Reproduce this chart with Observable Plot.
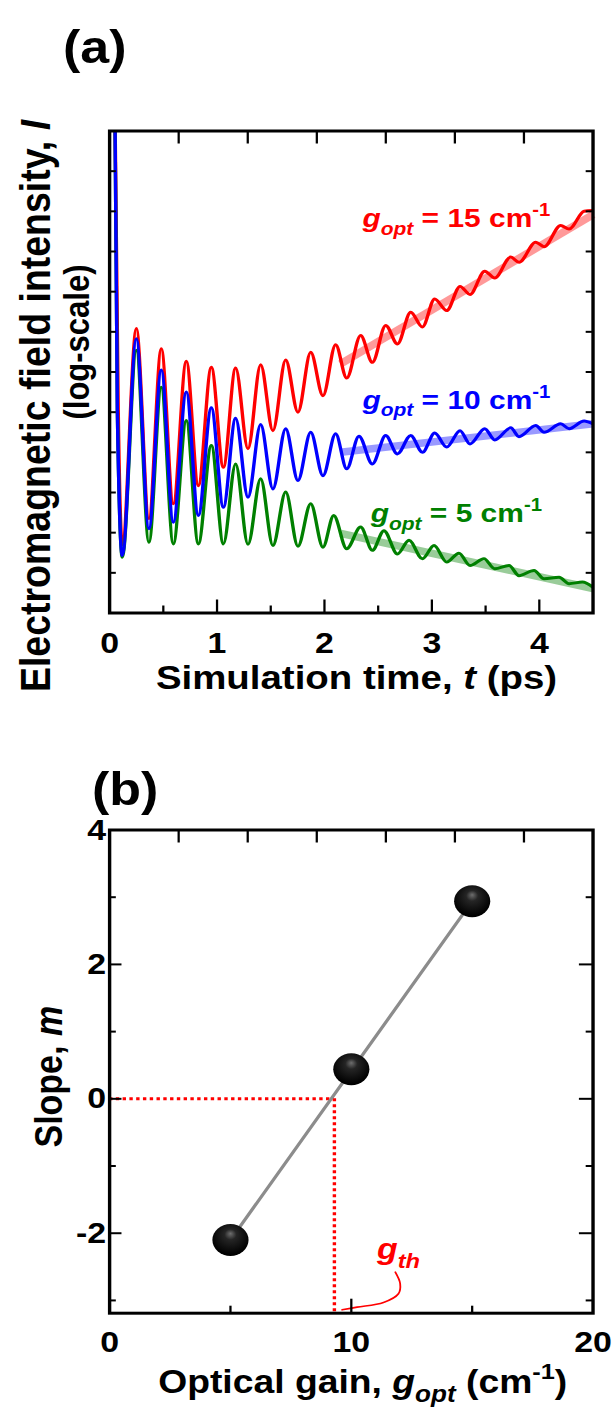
<!DOCTYPE html>
<html><head><meta charset="utf-8">
<script src="https://cdn.jsdelivr.net/npm/d3@7"></script>
<script src="https://cdn.jsdelivr.net/npm/@observablehq/plot@0.6"></script>
<style>
html,body{margin:0;padding:0;background:#fff;}
#fig{position:relative;width:542.5px;height:1413px;transform:scaleX(1.13);transform-origin:0 0;}
#fig svg{position:absolute;left:0;overflow:visible;}
</style></head><body><div id="fig"></div>
<script>
// ---------- DATA: panel (a) — log10 intensity (decades) vs simulation time (ps)
const redTime   = [0.048,0.08,0.118,0.249,0.366,0.481,0.593,0.714,0.826,0.947,1.059,1.173,1.288,1.406,1.520,1.639,1.753,1.872,1.986,2.104,2.207,2.337,2.446,2.570,2.679,2.803,2.912,3.026,3.138,3.262,3.355,3.492,3.585,3.734,3.811,3.967,4.044,4.199,4.277,4.417,4.5];
const redLogI   = [13.0,5.1,1.7,7.08,2.35,6.58,2.72,6.27,3.17,6.12,3.63,6.10,4.09,6.18,4.54,6.30,5.00,6.49,5.41,6.68,5.85,6.91,6.24,7.16,6.70,7.49,7.12,7.82,7.53,8.13,7.93,8.51,8.34,8.86,8.73,9.23,9.12,9.65,9.56,10.00,10.02];
const blueTime  = [0.048,0.072,0.118,0.249,0.366,0.481,0.593,0.714,0.826,0.947,1.059,1.173,1.288,1.406,1.520,1.639,1.753,1.872,1.986,2.104,2.207,2.321,2.446,2.570,2.679,2.803,2.912,3.026,3.138,3.262,3.355,3.492,3.585,3.734,3.811,3.967,4.044,4.199,4.277,4.417,4.5];
const blueLogI  = [13.0,5.04,1.43,6.83,2.10,6.05,2.26,5.50,2.43,5.11,2.63,4.85,2.88,4.69,3.09,4.59,3.30,4.50,3.42,4.46,3.59,4.40,3.71,4.42,3.96,4.42,4.00,4.48,4.13,4.54,4.21,4.59,4.31,4.61,4.39,4.67,4.50,4.71,4.59,4.78,4.71];
const greenTime = [0.048,0.072,0.118,0.249,0.366,0.481,0.593,0.714,0.826,0.947,1.059,1.173,1.288,1.406,1.520,1.639,1.753,1.872,1.986,2.086,2.207,2.337,2.446,2.554,2.679,2.787,2.912,3.020,3.138,3.252,3.355,3.485,3.585,3.718,3.811,3.951,4.044,4.184,4.277,4.401,4.5];
const greenLogI = [13.0,5.04,1.39,6.54,1.76,5.62,1.72,4.79,1.72,4.17,1.72,3.71,1.71,3.34,1.68,3.01,1.66,2.72,1.64,2.43,1.60,2.14,1.56,2.05,1.47,1.81,1.35,1.68,1.27,1.49,1.18,1.35,1.10,1.18,0.93,1.06,0.85,0.89,0.73,0.77,0.64];
// linear fits (start, end) on the growth/decay region
const fitTime   = [2.15, 4.5];
const redFit    = [6.2, 9.92];
const blueFit   = [4.0, 4.71];
const greenFit  = [1.98, 0.61];
// series labels
const seriesGain   = [15, 10, 5];
const seriesColor  = ["#ff0000", "#0000ff", "#008000"];
const labelTime    = [2.353, 2.353, 2.43];
const labelLogI    = [9.60, 5.08, 2.26];
// axes of (a)
const xDomainA = [0, 4.5];
const yDomainA = [0, 12];
const xMajorA = [0, 1, 2, 3, 4];
const xMajorLabelsA = ["0", "1", "2", "3", "4"];
const xMinorA = [0.5, 1.5, 2.5, 3.5];
const xTopA = [0.643, 1.286, 1.929, 2.571, 3.214, 3.857];
const yTicksA = [1, 2, 3, 4, 5, 6, 7, 8, 9, 10, 11];

// ---------- DATA: panel (b) — slope m vs optical gain
const gainValues  = [5, 10, 15];
const slopeValues = [-2.1, 0.44, 2.94];
const fitGain  = [5, 15];
const fitSlope = [-2.1, 2.94];
const gThreshold = 9.3;
const leaderGain  = [11.82, 12.02, 11.95, 11.33, 10.24, 9.62];
const leaderSlope = [-2.58, -2.75, -2.90, -3.03, -3.10, -3.14];
const gthLabelGain = 11.06, gthLabelSlope = -2.39;
const xDomainB = [0, 20];
const yDomainB = [-3.19, 4];
const xMajorB = [0, 10, 20];
const xMajorLabelsB = ["0", "10", "20"];
const xMinorB = [5, 15];
const xTopB = [2.857, 5.714, 8.571, 11.429, 14.286, 17.143];
const yMajorB = [4, 2, 0, -2];
const yMajorLabelsB = ["4", "2", "0", "-2"];
const yMinorB = [3, 1, -1, -3];

// ---------- helpers
const FONT = "'Liberation Sans', Arial, Helvetica, sans-serif";
const W = 542.5, ML = 96.5, MR = 18.2;
const PW = W - ML - MR;

function richText(t, parts, size) {
  t.text(null);
  let shift = 0;
  for (const p of parts) {
    const ts = t.append("tspan").text(p.s);
    let target = 0, fs = size;
    if (p.sub) { target = 0.28 * size; fs = 0.7 * size; }
    if (p.sup) { target = -0.42 * size; fs = 0.68 * size; }
    if (target - shift !== 0) ts.attr("dy", target - shift);
    shift = target;
    if (fs !== size) ts.attr("font-size", fs);
    if (p.it) ts.attr("font-style", "italic");
  }
}
function addText(svg, {x, y, rotate = 0, size, anchor = "middle", fill = "#000", parts}) {
  const t = d3.select(svg).append("text")
    .attr("transform", `translate(${x},${y}) rotate(${rotate})`)
    .attr("text-anchor", anchor).attr("font-size", size).attr("font-weight", "bold")
    .attr("fill", fill).attr("font-family", FONT);
  richText(t, parts, size);
}
function replaceRich(svg, plain, parts, size) {
  d3.select(svg).selectAll("text").each(function () {
    if (this.textContent === plain) richText(d3.select(this), parts, size);
  });
}
const gLabelParts = g => [{s: "g", it: 1}, {s: "opt", it: 1, sub: 1}, {s: ` = ${g} cm`}, {s: "-1", sup: 1}];
const rows = (xs, ys, kx, ky) => xs.map((v, i) => ({[kx]: v, [ky]: ys[i]}));

// ---------- PANEL (a)
const HA = 720, MTA = 130.5, MBA = 107.5, PHA = HA - MTA - MBA;
const LABEL_SIZE = 26.5;
const redRows = rows(redTime, redLogI, "t", "u");
const blueRows = rows(blueTime, blueLogI, "t", "u");
const greenRows = rows(greenTime, greenLogI, "t", "u");
const labels = seriesGain.map((g, i) => ({g, color: seriesColor[i], t: labelTime[i], u: labelLogI[i], plain: `gopt = ${g} cm-1`}));

const svgA = Plot.plot({
  width: W, height: HA,
  marginTop: MTA, marginBottom: MBA, marginLeft: ML, marginRight: MR,
  x: {domain: xDomainA, axis: null},
  y: {domain: yDomainA, axis: null},
  color: {type: "identity"},
  style: {fontFamily: FONT, background: "transparent", overflow: "visible"},
  marks: [
    Plot.line(rows(fitTime, redFit, "t", "u"), {x: "t", y: "u", stroke: "#ff0000", strokeOpacity: 0.4, strokeWidth: 7.5, strokeLinecap: "butt"}),
    Plot.line(rows(fitTime, blueFit, "t", "u"), {x: "t", y: "u", stroke: "#0000ff", strokeOpacity: 0.4, strokeWidth: 7.5, strokeLinecap: "butt"}),
    Plot.line(rows(fitTime, greenFit, "t", "u"), {x: "t", y: "u", stroke: "#008000", strokeOpacity: 0.4, strokeWidth: 7.5, strokeLinecap: "butt"}),
    Plot.line(redRows, {x: "t", y: "u", stroke: "#ff0000", strokeWidth: 3, curve: "monotone-x", clip: true}),
    Plot.line(greenRows, {x: "t", y: "u", stroke: "#008000", strokeWidth: 3, curve: "monotone-x", clip: true}),
    Plot.line(blueRows, {x: "t", y: "u", stroke: "#0000ff", strokeWidth: 3, curve: "monotone-x", clip: true}),
    // inward ticks
    Plot.ruleX(xMajorA.slice(1), {x: d => d, insetTop: PHA - 13, strokeWidth: 2}),
    Plot.ruleX(xMinorA, {x: d => d, insetTop: PHA - 7, strokeWidth: 2}),
    Plot.ruleX(xTopA, {x: d => d, insetBottom: PHA - 13, strokeWidth: 2}),
    Plot.ruleY(yTicksA, {y: d => d, insetRight: PW - 6, strokeWidth: 2}),
    Plot.ruleY(yTicksA, {y: d => d, insetLeft: PW - 6, strokeWidth: 2}),
    Plot.frame({stroke: "#000", strokeWidth: 3}),
    Plot.text(xMajorA, {x: d => d, text: (d, i) => xMajorLabelsA[i], frameAnchor: "bottom", lineAnchor: "bottom", dy: 39.5, fontSize: 30, fontWeight: "bold", fill: "#000"}),
    Plot.text(labels, {x: "t", y: "u", text: "plain", fill: "color", fontSize: LABEL_SIZE, fontWeight: "bold", textAnchor: "start", lineAnchor: "bottom"})
  ]
});
svgA.style.top = "0px";
document.getElementById("fig").appendChild(svgA);
for (const l of labels) replaceRich(svgA, l.plain, gLabelParts(l.g), LABEL_SIZE);
addText(svgA, {x: 55.8, y: 63, size: 46, anchor: "start", parts: [{s: "(a)"}]});
addText(svgA, {x: 315.5, y: 689, size: 34, parts: [{s: "Simulation time, "}, {s: "t", it: 1}, {s: " (ps)"}]});
addText(svgA, {x: 44.2, y: 406, rotate: -90, size: 37.5, parts: [{s: "Electromagnetic field intensity, "}, {s: "I", it: 1}]});
addText(svgA, {x: 78.5, y: 342, rotate: -90, size: 31, parts: [{s: "(log-scale)"}]});

// ---------- PANEL (b)
const HB = 693, MTB = 109.5, MBB = 100.3, PHB = HB - MTB - MBB;
const svgB = Plot.plot({
  width: W, height: HB,
  marginTop: MTB, marginBottom: MBB, marginLeft: ML, marginRight: MR,
  x: {domain: xDomainB, axis: null},
  y: {domain: yDomainB, axis: null},
  style: {fontFamily: FONT, background: "transparent", overflow: "visible"},
  marks: [
    Plot.ruleY([{g1: xDomainB[0], g2: gThreshold, m: 0}], {y: "m", x1: "g1", x2: "g2", stroke: "#ff0000", strokeWidth: 3, strokeDasharray: "3 3"}),
    Plot.ruleX([{g: gThreshold, m1: 0, m2: yDomainB[0]}], {x: "g", y1: "m1", y2: "m2", stroke: "#ff0000", strokeWidth: 3, strokeDasharray: "3 3"}),
    Plot.line(rows(fitGain, fitSlope, "g", "m"), {x: "g", y: "m", stroke: "#8c8c8c", strokeWidth: 3}),
    Plot.dot(rows(gainValues, slopeValues, "g", "m"), {x: "g", y: "m", r: 16, fill: "url(#ball)", stroke: "none"}),
    Plot.line(rows(leaderGain, leaderSlope, "g", "m"), {x: "g", y: "m", stroke: "#ff0000", strokeWidth: 1.6, curve: "catmull-rom"}),
    Plot.text([{g: gthLabelGain, m: gthLabelSlope}], {x: "g", y: "m", text: () => "gth", fill: "#ff0000", fontSize: 30, fontWeight: "bold", textAnchor: "start", lineAnchor: "bottom"}),
    Plot.ruleX([xMajorB[1]], {x: d => d, insetTop: PHB - 14, strokeWidth: 2}),
    Plot.ruleX(xMinorB, {x: d => d, insetTop: PHB - 7, strokeWidth: 2}),
    Plot.ruleX(xTopB, {x: d => d, insetBottom: PHB - 13, strokeWidth: 2}),
    Plot.ruleY(yMajorB, {y: d => d, insetRight: PW - 11, strokeWidth: 2}),
    Plot.ruleY(yMinorB, {y: d => d, insetRight: PW - 6, strokeWidth: 2}),
    Plot.ruleY(yMajorB, {y: d => d, insetLeft: PW - 12, strokeWidth: 2}),
    Plot.ruleY(yMinorB, {y: d => d, insetLeft: PW - 6, strokeWidth: 2}),
    Plot.frame({stroke: "#000", strokeWidth: 3}),
    Plot.text(xMajorB, {x: d => d, text: (d, i) => xMajorLabelsB[i], frameAnchor: "bottom", lineAnchor: "bottom", dy: 39, fontSize: 30, fontWeight: "bold", fill: "#000"}),
    Plot.text(yMajorB, {y: d => d, text: (d, i) => yMajorLabelsB[i], frameAnchor: "left", textAnchor: "end", lineAnchor: "middle", dx: -3, fontSize: 30, fontWeight: "bold", fill: "#000"})
  ]
});
svgB.style.top = "720px";
const defs = d3.select(svgB).insert("defs", ":first-child");
const grad = defs.append("radialGradient").attr("id", "ball").attr("cx", 0.5).attr("cy", 0.4).attr("r", 0.55).attr("fx", 0.5).attr("fy", 0.3);
grad.append("stop").attr("offset", "0%").attr("stop-color", "#6e6e6e");
grad.append("stop").attr("offset", "30%").attr("stop-color", "#252525");
grad.append("stop").attr("offset", "100%").attr("stop-color", "#000");
document.getElementById("fig").appendChild(svgB);
replaceRich(svgB, "gth", [{s: "g", it: 1}, {s: "th", it: 1, sub: 1}], 30);
addText(svgB, {x: 81.4, y: 85, size: 46, anchor: "start", parts: [{s: "(b)"}]});
addText(svgB, {x: 321, y: 673, size: 33, parts: [{s: "Optical gain, "}, {s: "g", it: 1}, {s: "opt", it: 1, sub: 1}, {s: " (cm"}, {s: "-1", sup: 1}, {s: ")"}]});
addText(svgB, {x: 54.9, y: 356.7, rotate: -90, size: 34, parts: [{s: "Slope, "}, {s: "m", it: 1}]});
</script></body></html>
